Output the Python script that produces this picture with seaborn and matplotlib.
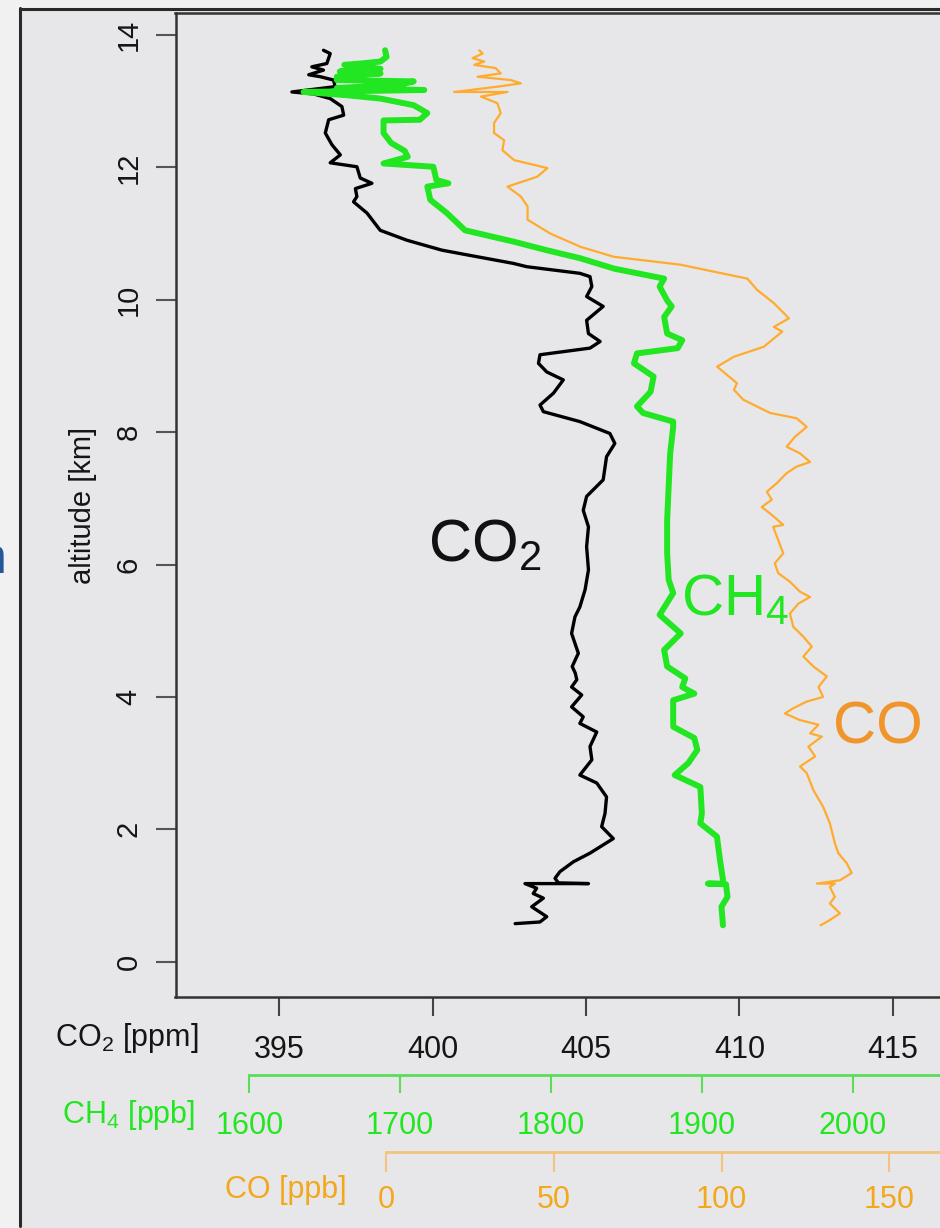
import matplotlib
matplotlib.use("Agg")
import matplotlib.pyplot as plt
from matplotlib.patches import Rectangle
from matplotlib.lines import Line2D
import seaborn as sns

# aircraft profile (top of the flight first)
co2_alt = [13.77, 13.72, 13.57, 13.52, 13.47, 13.40, 13.37, 13.32, 13.22, 13.14,
           13.11, 13.04, 12.92, 12.79, 12.72, 12.52, 12.34, 12.19, 12.07, 12.01,
           11.84, 11.76, 11.68, 11.56, 11.48, 11.31, 11.05, 10.90, 10.75, 10.68,
           10.55, 10.50, 10.40, 10.35, 10.20, 10.05, 9.90, 9.69, 9.49, 9.37,
           9.27, 9.17, 9.04, 8.91, 8.79, 8.59, 8.41, 8.31, 8.16, 7.98,
           7.83, 7.63, 7.28, 7.03, 6.82, 6.57, 6.27, 5.92, 5.62, 5.36,
           5.21, 4.96, 4.66, 4.46, 4.36, 4.26, 4.15, 4.03, 3.85, 3.70,
           3.60, 3.47, 3.25, 3.05, 2.82, 2.70, 2.49, 2.24, 2.04, 1.86,
           1.64, 1.51, 1.36, 1.26, 1.19, 1.18, 1.18, 1.11, 1.03, 0.96,
           0.83, 0.68, 0.60, 0.575]
co2_ppm = [396.44, 396.66, 396.55, 396.06, 396.44, 395.96, 396.34, 396.77, 396.82, 395.41,
           396.12, 396.66, 397.04, 397.10, 396.61, 396.50, 396.72, 396.99, 396.66, 397.53,
           397.64, 398.02, 397.48, 397.53, 397.42, 397.86, 398.29, 399.16, 400.30, 401.11,
           402.63, 403.07, 404.80, 405.13, 405.19, 405.02, 405.56, 405.02, 405.08, 405.46,
           405.13, 403.50, 403.45, 403.72, 404.26, 403.94, 403.50, 403.61, 404.80, 405.78,
           405.94, 405.67, 405.56, 405.02, 404.91, 405.08, 405.02, 405.08, 404.97, 404.80,
           404.64, 404.53, 404.75, 404.55, 404.65, 404.70, 404.53, 404.86, 404.53, 404.91,
           404.80, 405.35, 405.13, 405.19, 404.80, 405.35, 405.67, 405.62, 405.51, 405.89,
           405.13, 404.59, 404.15, 403.99, 404.10, 405.08, 403.01, 403.39, 403.28, 403.61,
           403.23, 403.72, 403.50, 402.69]

ch4_alt = [13.77, 13.67, 13.60, 13.57, 13.55, 13.49, 13.45, 13.42, 13.37, 13.32,
           13.30, 13.25, 13.20, 13.17, 13.14, 13.09, 13.04, 12.94, 12.82, 12.72,
           12.71, 12.52, 12.37, 12.25, 12.16, 12.06, 12.01, 11.81, 11.76, 11.71,
           11.51, 11.31, 11.05, 10.88, 10.75, 10.63, 10.47, 10.32, 10.20, 9.99,
           9.90, 9.74, 9.49, 9.39, 9.27, 9.19, 9.04, 8.84, 8.61, 8.39,
           8.29, 8.16, 8.08, 7.68, 7.18, 6.67, 6.17, 5.77, 5.57, 5.24,
           4.96, 4.71, 4.46, 4.28, 4.15, 4.05, 3.95, 3.55, 3.38, 3.20,
           3.00, 2.82, 2.64, 2.24, 2.09, 1.89, 1.54, 1.24, 1.18, 1.18,
           1.17, 0.98, 0.83, 0.55]
ch4_ppb = [1690, 1691, 1687, 1674, 1663, 1687, 1660, 1687, 1658, 1658,
           1709, 1700, 1658, 1716, 1636, 1665, 1687, 1709, 1718, 1713,
           1689, 1689, 1694, 1703, 1705, 1689, 1722, 1724, 1732, 1718,
           1720, 1731, 1743, 1775, 1797, 1819, 1842, 1875, 1872, 1877,
           1880, 1875, 1877, 1887, 1884, 1857, 1855, 1868, 1866, 1857,
           1861, 1881, 1881, 1879, 1878, 1877, 1877, 1878, 1881, 1872,
           1886, 1875, 1877, 1889, 1887, 1895, 1881, 1881, 1895, 1897,
           1891, 1882, 1899, 1900, 1899, 1910, 1912, 1914, 1914, 1904,
           1916, 1917, 1913, 1914]

co_alt = [13.77, 13.72, 13.65, 13.60, 13.55, 13.50, 13.42, 13.37, 13.32, 13.27,
          13.22, 13.14, 13.14, 13.07, 12.97, 12.82, 12.67, 12.52, 12.41, 12.26,
          12.11, 11.99, 11.86, 11.71, 11.56, 11.41, 11.21, 11.00, 10.80, 10.65,
          10.53, 10.32, 10.15, 9.95, 9.72, 9.59, 9.52, 9.29, 9.14, 8.99,
          8.74, 8.64, 8.49, 8.29, 8.21, 8.08, 7.93, 7.78, 7.68, 7.55,
          7.48, 7.38, 7.23, 7.10, 6.98, 6.87, 6.75, 6.60, 6.57, 6.37,
          6.17, 6.02, 5.87, 5.74, 5.59, 5.51, 5.41, 5.26, 5.06, 4.91,
          4.76, 4.61, 4.46, 4.31, 4.15, 4.00, 3.93, 3.83, 3.75, 3.65,
          3.58, 3.45, 3.40, 3.25, 3.10, 2.95, 2.85, 2.59, 2.34, 2.09,
          1.79, 1.64, 1.49, 1.34, 1.23, 1.18, 1.18, 1.13, 0.98, 0.88,
          0.73, 0.62, 0.55]
co_ppb = [27.8, 28.8, 25.8, 29.3, 26.3, 32.7, 34.2, 27.3, 37.2, 40.2,
          33.2, 20.3, 36.2, 28.3, 33.2, 34.2, 32.2, 32.2, 35.2, 34.7,
          38.2, 48.1, 45.1, 36.2, 40.2, 42.2, 42.2, 49.0, 58.0, 67.9,
          87.8, 107.7, 110.6, 115.6, 120.1, 115.6, 118.1, 112.6, 103.7, 98.7,
          104.6, 103.7, 106.5, 114.5, 122.4, 125.4, 121.9, 119.4, 123.4, 126.4,
          122.4, 119.4, 116.5, 113.5, 115.0, 112.0, 115.0, 118.4, 115.4, 116.9,
          118.4, 115.9, 116.9, 120.4, 123.4, 126.4, 122.9, 120.4, 121.4, 124.4,
          126.9, 124.4, 127.4, 131.4, 128.9, 130.3, 125.4, 121.4, 118.9, 123.4,
          128.9, 126.4, 129.9, 125.9, 127.9, 123.4, 125.4, 127.4, 130.3, 132.3,
          133.8, 134.8, 137.3, 138.8, 135.3, 128.4, 133.8, 132.3, 133.8, 132.3,
          135.3, 132.0, 129.5]

alt_ticks = [0, 2, 4, 6, 8, 10, 12, 14]
co2_ticks = [395, 400, 405, 410, 415]
ch4_ticks = [1600, 1700, 1800, 1900, 2000]
co_ticks = [0, 50, 100, 150]

BG = "#e7e7e9"
GREEN = "#22e622"
GREEN_AX = "#5ade5a"
ORANGE = "#ffab2e"
ORANGE_TXT = "#f0952b"
ORANGE_AX = "#f2c47e"
ORANGE_LBL = "#f3a81c"

sns.set_style("white", {"axes.facecolor": BG, "figure.facecolor": "#f1f1f1"})
plt.rcParams["font.family"] = ["Liberation Sans", "DejaVu Sans"]
plt.rcParams["mathtext.default"] = "regular"

W, H = 940, 1228
fig = plt.figure(figsize=(W / 100, H / 100), dpi=100)

# the slide panel the chart sits on
fig.add_artist(Rectangle((20 / W, 0), 1, 1 - 9 / H, transform=fig.transFigure,
                         facecolor=BG, edgecolor="none", zorder=-10))
fig.add_artist(Line2D([20 / W, 20 / W], [0.002, 1 - 8 / H], transform=fig.transFigure,
                      color="#2a2a2a", lw=2.2))
fig.add_artist(Line2D([20 / W, 1], [1 - 9 / H, 1 - 9 / H], transform=fig.transFigure,
                      color="#2a2a2a", lw=2.2))
fig.text(7 / W, 1 - 573 / H, "n", ha="right", va="baseline", fontsize=36, color="#24589a")

# plot box in pixels: left 175.5, right beyond the crop, top 13, bottom 997.3
left, right, top, bottom = 175.5, 1000.0, 13.0, 997.3
ax = fig.add_axes([left / W, 1 - bottom / H, (right - left) / W, (bottom - top) / H])
ax.set_facecolor(BG)

# pixel positions of the ticks on each scale
px_co2 = (279.3, 30.67)   # x of 395 ppm, px per ppm
px_ch4 = (249.3, 1.5085)  # x of 1600 ppb, px per ppb
px_co = (386.0, 3.355)    # x of 0 ppb, px per ppb

def lims(x0, per, base):
    return (base + (left - x0) / per, base + (right - x0) / per)

ax.set_xlim(*lims(px_co2[0], px_co2[1], 395))
ax.set_ylim(-(bottom - 961.7) / 66.19, (961.7 - top) / 66.19)

sns.lineplot(x=co2_ppm, y=co2_alt, sort=False, estimator=None, color="black",
             lw=2.4, ax=ax)

ax_ch4 = ax.twiny()
ax_co = ax.twiny()
ch4_lim = lims(px_ch4[0], px_ch4[1], 1600)
co_lim = lims(px_co[0], px_co[1], 0)
ax_ch4.set_xlim(*ch4_lim)
ax_co.set_xlim(*co_lim)

sns.lineplot(x=co_ppb, y=co_alt, sort=False, estimator=None, color=ORANGE,
             lw=1.6, ax=ax_co)
sns.lineplot(x=ch4_ppb, y=ch4_alt, sort=False, estimator=None, color=GREEN,
             lw=4.3, ax=ax_ch4)

# main axis styling
for s in ["left", "bottom", "top"]:
    ax.spines[s].set_color("#333333")
    ax.spines[s].set_linewidth(1.8)
ax.spines["right"].set_visible(False)
ax.set_yticks(alt_ticks)
ax.set_yticklabels([str(t) for t in alt_ticks])
ax.set_xticks(co2_ticks)
ax.set_xticklabels([str(t) for t in co2_ticks])
ax.tick_params(axis="y", left=True, length=14.4, width=1.5, color="#555555",
               pad=9.4, labelsize=21, labelcolor="#151515")
ax.tick_params(axis="x", bottom=True, length=14, width=1.5, color="#444444",
               pad=13, labelsize=22, labelcolor="#151515")
for lbl in ax.get_yticklabels():
    lbl.set_rotation(90)
    lbl.set_va("center")
ax.set_xlabel("")
ax.set_ylabel("altitude [km]", fontsize=21, color="#151515")
ax.yaxis.set_label_coords((97 - left) / (right - left), 0.5)

def extra_axis(a, lim, ticks, offset_px, line_c, lbl_c, length, pad):
    a.patch.set_visible(False)
    for s in ["top", "left", "right"]:
        a.spines[s].set_visible(False)
    a.xaxis.set_ticks_position("bottom")
    a.xaxis.set_label_position("bottom")
    a.spines["bottom"].set_position(("outward", offset_px * 0.72))
    a.spines["bottom"].set_bounds(ticks[0], lim[1])
    a.spines["bottom"].set_color(line_c)
    a.spines["bottom"].set_linewidth(2.0)
    a.set_xticks(ticks)
    a.set_xticklabels([str(t) for t in ticks])
    a.tick_params(axis="x", bottom=True, top=False, length=length, width=1.5,
                  color=line_c, pad=pad, labelsize=22, labelcolor=lbl_c)
    a.set_xlabel("")

extra_axis(ax_ch4, ch4_lim, ch4_ticks, 1075 - bottom, GREEN_AX, GREEN, 13.2, 13)
extra_axis(ax_co, co_lim, co_ticks, 1151.7 - bottom, ORANGE_AX, ORANGE_LBL, 14.4, 9.5)

# scale names to the left of each row of tick labels
fig.text(198.3 / W, 1 - 1046 / H, "CO$_2$ [ppm]", ha="right", va="baseline",
         fontsize=22, color="#151515")
fig.text(195 / W, 1 - 1123 / H, "CH$_4$ [ppb]", ha="right", va="baseline",
         fontsize=22, color=GREEN)
fig.text(346.7 / W, 1 - 1198 / H, "CO [ppb]", ha="right", va="baseline",
         fontsize=22, color=ORANGE_LBL)

# gas names next to the profiles
ax.text(399.85, 6.04, "CO$_2$", fontsize=43, ha="left", va="baseline", color="#111111")
ax.text(408.10, 5.24, "CH$_4$", fontsize=42, ha="left", va="baseline", color=GREEN)
ax.text(413.05, 3.30, "CO", fontsize=43, ha="left", va="baseline", color=ORANGE_TXT)

fig.savefig("out.png", dpi=100)
